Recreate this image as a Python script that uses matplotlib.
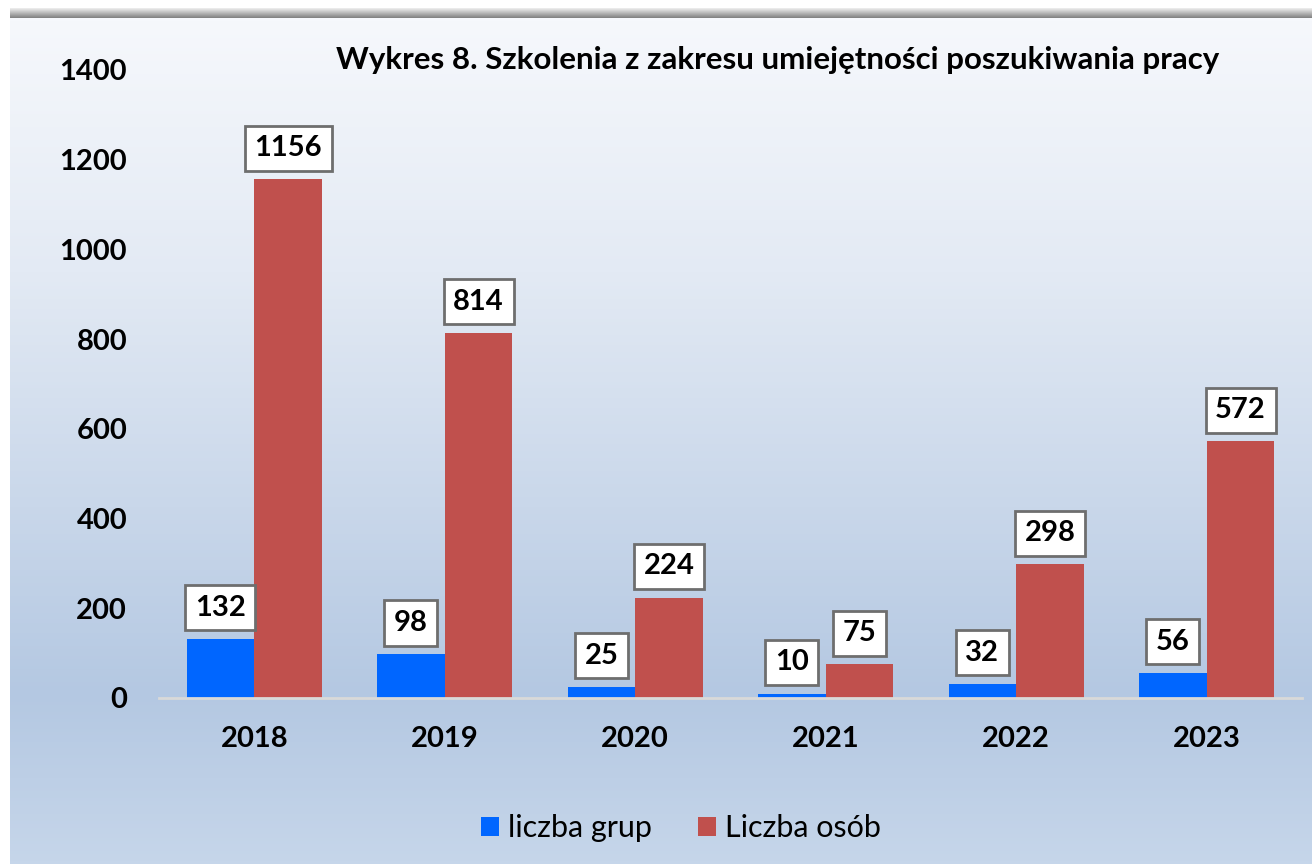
import matplotlib
matplotlib.use("Agg")
import matplotlib.pyplot as plt
import numpy as np
from matplotlib.colors import LinearSegmentedColormap

years = ["2018", "2019", "2020", "2021", "2022", "2023"]
liczba_grup = [132, 98, 25, 10, 32, 56]
liczba_osob = [1156, 814, 224, 75, 298, 572]
series_names = ["liczba grup", "Liczba osób"]
title = "Wykres 8. Szkolenia z zakresu umiejętności poszukiwania pracy"
yticks = [0, 200, 400, 600, 800, 1000, 1200, 1400]

plt.rcParams['font.family'] = ['Lato', 'DejaVu Sans']

W, H = 1312, 864
fig = plt.figure(figsize=(W / 100, H / 100), dpi=100)
fig.patch.set_facecolor("white")

# background gradient panel
bg = fig.add_axes([10 / W, 0, 1 - 10 / W, 1 - 18 / H], zorder=0)
bg.set_axis_off()
cmap = LinearSegmentedColormap.from_list(
    "bg", [(0.0, "#F6F8FC"), (0.3, "#E3EAF4"), (0.8, "#B4C8E2"), (1.0, "#C6D6EA")])
grad = np.linspace(0, 1, 256).reshape(-1, 1)
bg.imshow(grad, aspect="auto", cmap=cmap, extent=[0, 1, 0, 1], origin="upper")
bg.set_xlim(0, 1)
bg.set_ylim(0, 1)

# top shadow band
sh = fig.add_axes([10 / W, 1 - 18 / H, 1 - 10 / W, 10 / H], zorder=1)
sh.set_axis_off()
scmap = LinearSegmentedColormap.from_list("sh", ["#F0F0F0", "#7F7F7F"])
sh.imshow(np.linspace(0, 1, 64).reshape(-1, 1), aspect="auto", cmap=scmap,
          extent=[0, 1, 0, 1], origin="upper")

ax = fig.add_axes([159 / W, (H - 698) / H, (1302 - 159) / W, (698 - 70) / H], zorder=2)
ax.patch.set_alpha(0)
x = np.arange(len(years))
bw = 0.355
b1 = ax.bar(x - bw / 2, liczba_grup, bw, color="#0066FF", label=series_names[0], zorder=3)
b2 = ax.bar(x + bw / 2, liczba_osob, bw, color="#C0504D", label=series_names[1], zorder=3)

box = dict(boxstyle="square,pad=0.33", fc="white", ec="#6E6E6E", lw=2)
for bars in (b1, b2):
    for r in bars:
        v = r.get_height()
        ax.annotate(f"{int(v)}", (r.get_x() + r.get_width() / 2, v),
                    xytext=(0, 13), textcoords="offset points",
                    ha="center", va="bottom", fontsize=21, fontweight="bold",
                    bbox=box, zorder=5)

ax.set_xlim(-0.5, len(years) - 0.5)
ax.set_ylim(0, 1400)
ax.set_yticks(yticks)
ax.set_yticklabels([str(t) for t in yticks], fontsize=21, fontweight="bold")
ax.set_xticks(x)
ax.set_xticklabels(years, fontsize=21, fontweight="bold")
ax.tick_params(axis="y", length=0, pad=23)
ax.tick_params(axis="x", length=0, pad=20)
for s in ["top", "right", "left"]:
    ax.spines[s].set_visible(False)
ax.spines["bottom"].set_color("#D9D9D9")
ax.spines["bottom"].set_linewidth(2)
ax.spines["bottom"].set_zorder(4)

fig.text(778 / W, 1 - 60 / H, title, ha="center", va="center",
         fontsize=22.5, fontweight="bold", zorder=10)

fig.legend(handles=[b1, b2], labels=series_names, loc="center",
           bbox_to_anchor=(681 / W, 1 - 828 / H), ncol=2, frameon=False,
           fontsize=22, handlelength=0.6, handleheight=0.6, columnspacing=1.5,
           handletextpad=0.3)

fig.savefig("out.png", dpi=100, facecolor=fig.get_facecolor())
